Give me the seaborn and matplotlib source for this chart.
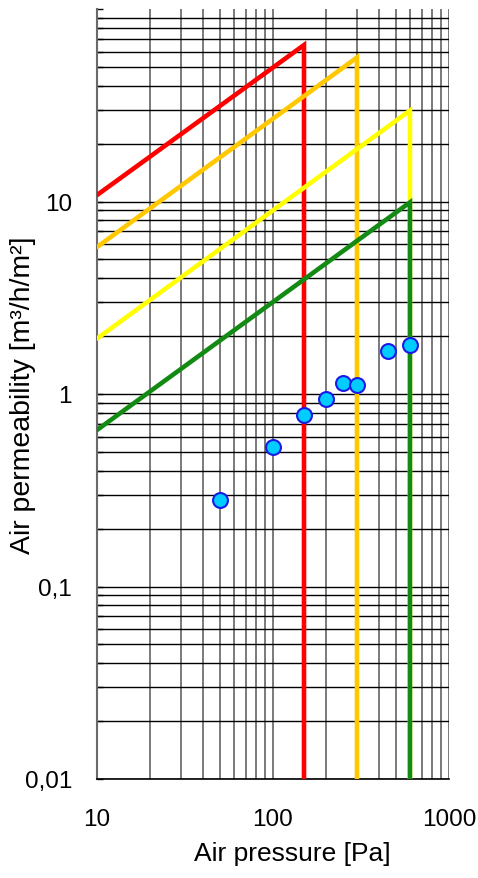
import matplotlib
matplotlib.use("Agg")
import matplotlib.pyplot as plt
import seaborn as sns
import pandas as pd
import numpy as np
from matplotlib.ticker import LogLocator, NullFormatter

# ---- data ----
class_names = ["Class 1", "Class 2", "Class 3", "Class 4"]
class_colors = ["#ff0000", "#ffc800", "#ffff00", "#138a13"]
class1_x = [10, 150, 150]
class1_y = [10.8, 65.0, 0.01]
class2_x = [10, 300, 300]
class2_y = [5.8, 56.0, 0.01]
class3_x = [10, 600, 600]
class3_y = [1.94, 29.7, 0.01]
class4_x = [10, 600, 600]
class4_y = [0.65, 9.9, 0.01]

meas_pressure = [50, 100, 150, 200, 250, 300, 450, 600]
meas_perm = [0.28, 0.53, 0.78, 0.94, 1.14, 1.12, 1.67, 1.80]

x_ticks = [10, 100, 1000]
x_tick_labels = ["10", "100", "1000"]
y_ticks = [0.01, 0.1, 1, 10, 100]
y_tick_labels = ["0,01", "0,1", "1", "10", ""]

x_label = "Air pressure [Pa]"
y_label = "Air permeability [m³/h/m²]"

# ---- plot ----
sns.set_style("white")
plt.rcParams["font.family"] = ["Liberation Sans", "DejaVu Sans"]
plt.rcParams["text.color"] = "black"
plt.rcParams["axes.labelcolor"] = "black"
plt.rcParams["xtick.color"] = "black"
plt.rcParams["ytick.color"] = "black"

fig = plt.figure(figsize=(4.78, 8.79), dpi=100)
ax = fig.add_axes([97 / 478, 1 - 780 / 879, (449 - 97) / 478, (780 - 10) / 879])

ax.set_xscale("log")
ax.set_yscale("log")

ax.xaxis.set_minor_locator(LogLocator(base=10, subs=np.arange(2, 10)))
ax.yaxis.set_minor_locator(LogLocator(base=10, subs=np.arange(2, 10)))
ax.xaxis.set_minor_formatter(NullFormatter())
ax.yaxis.set_minor_formatter(NullFormatter())
ax.set_xticks(x_ticks)
ax.set_xticklabels(x_tick_labels)
ax.set_yticks(y_ticks)
ax.set_yticklabels(y_tick_labels)
ax.set_xlim(10, 1000)
ax.set_ylim(0.01, 100)

ax.grid(True, which="both", axis="x", color="#7a7a7a", linewidth=1.4)
ax.grid(True, which="both", axis="y", color="#000000", linewidth=1.0)
ax.set_axisbelow(True)

xs = [class1_x, class2_x, class3_x, class4_x]
ys = [class1_y, class2_y, class3_y, class4_y]
for name, col, xv, yv in zip(class_names, class_colors, xs, ys):
    df = pd.DataFrame({"x": xv, "y": yv})
    sns.lineplot(data=df, x="x", y="y", sort=False, estimator=None, color=col,
                 linewidth=3.3, ax=ax, legend=False, zorder=3,
                 solid_capstyle="round", solid_joinstyle="miter")

dfm = pd.DataFrame({"p": meas_pressure, "q": meas_perm})
sns.scatterplot(data=dfm, x="p", y="q", s=115, color="#00ccff", edgecolor="#1a1ae6",
                linewidth=1.5, ax=ax, zorder=5, legend=False, clip_on=False)

for sp in ["top", "right"]:
    ax.spines[sp].set_visible(False)
ax.spines["left"].set_color("#6a6a6a")
ax.spines["left"].set_linewidth(1.5)
ax.spines["bottom"].set_color("#000000")
ax.spines["bottom"].set_linewidth(1.2)

ax.tick_params(axis="y", which="both", direction="in", length=4, width=1, color="#000000",
               labelcolor="black", left=True, labelsize=17.5, pad=18)
ax.tick_params(axis="x", which="both", direction="in", length=0, labelsize=17.5, pad=21,
               labelcolor="black", bottom=True)

ax.set_xlabel(x_label, fontsize=19, color="black")
ax.set_ylabel(y_label, fontsize=20.5, color="black")
ax.xaxis.set_label_coords((292 - 97) / 352, (780 - 842) / 770)
ax.yaxis.set_label_coords((36 - 97) / 352, 0.5)

fig.canvas.draw()
for t in ax.yaxis.get_major_ticks():
    if np.isclose(t.get_loc(), 100):
        t.gridline.set_visible(False)

fig.savefig("out.png", dpi=100)
